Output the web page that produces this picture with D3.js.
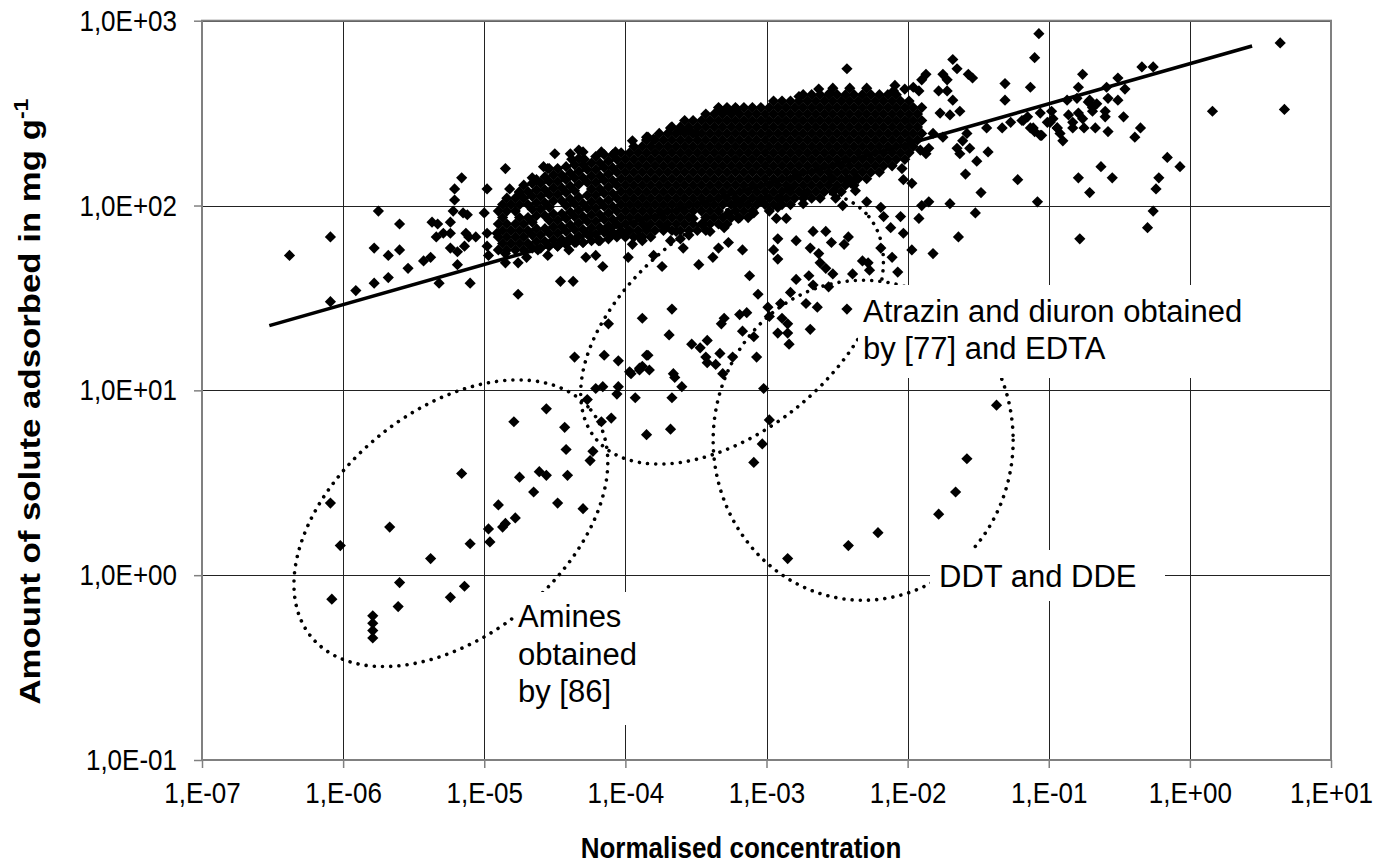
<!DOCTYPE html>
<html><head><meta charset="utf-8">
<script src="https://cdn.jsdelivr.net/npm/d3@7"></script>
<style>
html,body{margin:0;padding:0;background:#fff;}
svg text{font-family:"Liberation Sans", Arial, sans-serif;fill:#000;}
</style></head>
<body><svg id="chart" width="1373" height="865"></svg>
<script>
// ---------- axis ticks ----------
const xTickValues = [1e-7,1e-6,1e-5,1e-4,1e-3,1e-2,1e-1,1e0,1e1];
const xTickLabels = ["1,E-07","1,E-06","1,E-05","1,E-04","1,E-03","1,E-02","1,E-01","1,E+00","1,E+01"];
const yTickValues = [0.1,1,10,100,1000];
const yTickLabels = ["1,0E-01","1,0E+00","1,0E+01","1,0E+02","1,0E+03"];
const xTitle = "Normalised concentration";
const yTitle = "Amount of solute adsorbed in mg g";
const yTitleSup = "-1";

// ---------- data: log10(normalised concentration), log10(amount adsorbed, mg/g) ----------
// dense part of the cloud, read column by column: [log10 C, [log10 q, ...]]
const coreColsA = [
[-4.90,[1.76,1.83,1.90,1.97]],[-4.87,[1.795,1.865,1.935,2.005]],[-4.84,[1.76,1.83,1.90,1.97,2.04]],
[-4.81,[1.795,1.865,2.005]],[-4.78,[1.76,1.83,1.90,1.97,2.04]],[-4.75,[1.795,1.865,1.935,2.005,2.075]],
[-4.72,[1.76,1.83,1.90,2.04,2.11]],[-4.69,[1.795,1.865,1.935,2.005,2.075]],[-4.66,[1.77,1.84,1.91,1.98,2.05,2.12]],
[-4.63,[1.805,1.875,1.945,2.015,2.085]],[-4.60,[1.77,1.84,1.98,2.05,2.12]],[-4.57,[1.805,1.875,1.945,2.015,2.085,2.155]],
[-4.54,[1.78,1.85,1.92,1.99,2.06,2.13,2.20]],[-4.51,[1.815,1.885,1.955,2.025,2.095,2.165]],[-4.48,[1.78,1.85,1.92,2.06,2.13,2.20]],
[-4.45,[1.815,1.885,1.955,2.025,2.095,2.165]],[-4.42,[1.79,1.86,1.93,2.00,2.07,2.14,2.21]],[-4.39,[1.825,1.895,1.965,2.035,2.105,2.175]],
[-4.36,[1.80,1.87,1.94,2.01,2.08,2.15,2.22]],[-4.33,[1.835,1.905,1.975,2.045,2.115,2.185,2.255]],[-4.30,[1.80,1.87,1.94,2.01,2.15,2.22]],
[-4.27,[1.845,1.915,1.985,2.055,2.125,2.195]],[-4.24,[1.81,1.88,1.95,2.02,2.09,2.16,2.23]],[-4.21,[1.845,1.915,1.985,2.055,2.125,2.195,2.265]],
[-4.18,[1.81,1.88,1.95,2.02,2.09,2.16,2.23]],[-4.15,[1.855,1.925,1.995,2.065,2.135,2.205,2.275]],[-4.12,[1.82,1.89,1.96,2.03,2.10,2.17,2.24]],
[-4.09,[1.855,1.925,1.995,2.065,2.135,2.205,2.275]],[-4.06,[1.83,1.90,1.97,2.04,2.11,2.18,2.25]],[-4.03,[1.865,1.935,2.005,2.075,2.145,2.215,2.285]],
[-4.00,[1.83,1.90,1.97,2.04,2.11,2.18,2.25]],[-3.97,[1.865,1.935,2.005,2.075,2.145,2.215,2.285]],[-3.94,[1.83,1.90,1.97,2.04,2.11,2.18,2.25,2.32]],
[-3.91,[1.865,1.935,2.005,2.075,2.145,2.215,2.285]]
];
const coreColsB = [
[-3.88,[1.83,1.90,1.97,2.04,2.11,2.18,2.25,2.32]],[-3.85,[1.865,1.935,2.005,2.075,2.145,2.215,2.285,2.355]],
[-3.82,[1.83,1.90,1.97,2.04,2.11,2.18,2.25,2.32]],[-3.79,[1.865,1.935,2.005,2.075,2.145,2.215,2.285,2.355]],
[-3.76,[1.90,1.97,2.04,2.11,2.18,2.25,2.32,2.39]],[-3.73,[1.865,1.935,2.005,2.075,2.145,2.215,2.285,2.355]],
[-3.70,[1.90,1.97,2.04,2.11,2.18,2.25,2.32,2.39]],[-3.67,[1.865,1.935,2.005,2.075,2.145,2.215,2.285,2.355,2.425]],
[-3.64,[1.90,1.97,2.04,2.11,2.18,2.25,2.32,2.39]],[-3.61,[1.865,1.935,2.005,2.075,2.145,2.215,2.285,2.355,2.425]],
[-3.58,[1.90,1.97,2.04,2.11,2.18,2.25,2.32,2.39,2.46]],[-3.55,[1.865,1.935,2.005,2.075,2.145,2.215,2.285,2.355,2.425]],
[-3.52,[1.90,1.97,2.04,2.11,2.18,2.25,2.32,2.39,2.46]],[-3.49,[1.865,2.005,2.075,2.145,2.215,2.285,2.355,2.425]],
[-3.46,[1.90,1.97,2.04,2.11,2.18,2.25,2.32,2.39,2.46]],[-3.43,[1.865,1.935,2.005,2.075,2.145,2.215,2.285,2.355,2.425,2.495]],
[-3.40,[1.90,1.97,2.04,2.11,2.18,2.25,2.32,2.39,2.46]],[-3.37,[1.935,2.005,2.075,2.145,2.215,2.285,2.355,2.425,2.495]],
[-3.34,[1.90,1.97,2.04,2.11,2.18,2.25,2.32,2.39,2.46,2.53]],[-3.31,[1.935,2.005,2.075,2.145,2.215,2.285,2.355,2.425,2.495]],
[-3.28,[1.90,2.04,2.11,2.18,2.25,2.32,2.39,2.46,2.53]],[-3.25,[1.935,2.005,2.075,2.145,2.215,2.285,2.355,2.425,2.495]],
[-3.22,[1.97,2.04,2.11,2.18,2.25,2.32,2.39,2.46,2.53]],[-3.19,[1.935,2.005,2.075,2.145,2.215,2.285,2.355,2.425,2.495]],
[-3.16,[2.04,2.11,2.18,2.25,2.32,2.39,2.46,2.53]],[-3.13,[1.935,2.005,2.075,2.145,2.215,2.285,2.355,2.425,2.495]],
[-3.10,[1.97,2.04,2.11,2.18,2.25,2.32,2.39,2.46,2.53]],[-3.07,[2.005,2.075,2.145,2.215,2.285,2.355,2.425,2.495]],
[-3.04,[2.04,2.11,2.18,2.25,2.32,2.39,2.46,2.53]],[-3.01,[2.005,2.075,2.145,2.215,2.285,2.355,2.425,2.495]],
[-2.98,[1.97,2.04,2.11,2.18,2.25,2.32,2.39,2.46,2.53]],[-2.95,[2.005,2.075,2.145,2.215,2.285,2.355,2.425,2.495,2.565]],
[-2.92,[2.04,2.11,2.18,2.25,2.32,2.39,2.46,2.53]],[-2.89,[2.005,2.075,2.145,2.215,2.285,2.355,2.425,2.495,2.565]]
];
const coreColsC = [
[-2.86,[2.04,2.11,2.18,2.25,2.32,2.39,2.46,2.53]],[-2.83,[2.005,2.075,2.145,2.215,2.285,2.355,2.425,2.495,2.565]],
[-2.80,[2.04,2.11,2.18,2.25,2.32,2.39,2.46,2.53]],[-2.77,[2.075,2.145,2.215,2.285,2.355,2.425,2.495,2.565]],
[-2.74,[2.04,2.11,2.18,2.25,2.32,2.39,2.46,2.53,2.60]],[-2.71,[2.075,2.145,2.215,2.285,2.355,2.425,2.495,2.565]],
[-2.68,[2.04,2.11,2.18,2.25,2.32,2.39,2.46,2.53,2.60]],[-2.65,[2.075,2.145,2.215,2.285,2.355,2.425,2.495,2.565]],
[-2.62,[2.04,2.11,2.18,2.25,2.32,2.39,2.46,2.53,2.60]],[-2.59,[2.075,2.145,2.215,2.285,2.355,2.425,2.495,2.565]],
[-2.56,[2.11,2.18,2.25,2.32,2.39,2.46,2.53,2.60]],[-2.53,[2.075,2.145,2.215,2.285,2.355,2.425,2.495,2.565,2.635]],
[-2.50,[2.11,2.18,2.25,2.32,2.39,2.46,2.53,2.60]],[-2.47,[2.075,2.145,2.215,2.285,2.355,2.425,2.495,2.565]],
[-2.44,[2.11,2.18,2.25,2.32,2.39,2.46,2.53,2.60]],[-2.41,[2.145,2.215,2.285,2.355,2.425,2.495,2.565,2.635]],
[-2.38,[2.11,2.18,2.25,2.32,2.39,2.46,2.53,2.60]],[-2.35,[2.145,2.215,2.285,2.355,2.425,2.495,2.565]],
[-2.32,[2.18,2.25,2.32,2.39,2.46,2.53,2.60]],[-2.29,[2.145,2.215,2.285,2.355,2.425,2.495,2.565,2.635]],
[-2.26,[2.18,2.25,2.32,2.39,2.46,2.53,2.60]],[-2.23,[2.215,2.285,2.355,2.425,2.495,2.565]],
[-2.20,[2.18,2.25,2.32,2.39,2.46,2.53,2.60]],[-2.17,[2.215,2.285,2.355,2.425,2.495,2.565]],
[-2.14,[2.25,2.32,2.39,2.46,2.53,2.60]],[-2.11,[2.215,2.285,2.355,2.425,2.495,2.565]],
[-2.08,[2.25,2.32,2.39,2.46,2.53,2.60]],[-2.05,[2.285,2.355,2.425,2.495,2.565]],
[-2.02,[2.25,2.32,2.39,2.46,2.53]],[-1.99,[2.285,2.355,2.425,2.495,2.565]],
[-1.96,[2.32,2.39,2.46,2.53]],[-1.93,[2.355,2.425,2.495]],[-1.90,[2.39,2.46,2.53]]
];
// individually read points: [log10 C, log10 q]
const cloudLeft = [
[-6.38,1.73],[-6.09,1.83],[-6.09,1.48],[-5.91,1.54],[-5.78,1.58],[-5.75,1.97],[-5.60,1.90],[-5.78,1.77],
[-5.68,1.73],[-5.60,1.76],[-5.54,1.66],[-5.68,1.61],[-5.43,1.70],[-5.38,1.72],[-5.37,1.91],[-5.33,1.90],
[-5.34,1.83],[-5.29,1.85],[-5.24,1.85],[-5.24,1.91],[-5.22,1.97],[-5.21,2.03],[-5.21,2.09],[-5.16,2.15],
[-5.15,1.96],[-5.12,1.95],[-5.13,1.85],[-5.11,1.83],[-5.06,1.83],[-5.24,1.77],[-5.19,1.75],[-5.14,1.78],
[-5.19,1.68],[-5.32,1.58],[-5.10,1.58],[-5.00,1.96],[-4.98,2.09],[-4.98,1.85],[-4.98,1.78],[-4.97,1.73],
[-4.91,1.85],[-4.85,2.20],[-4.82,2.09],[-4.75,2.07],[-4.85,1.69],[-4.76,1.69],[-4.76,1.52],[-4.46,1.59],
[-4.37,1.59],[-4.50,2.28],[-4.39,2.28],[-4.33,2.30],[-4.30,2.29],[-4.38,2.25],[-4.29,2.25],[-4.17,2.29],
[-4.07,2.29],[-3.95,2.35],[-3.85,2.37],[-4.58,2.21],[-4.55,2.20],[-4.66,2.15],[-4.63,2.14],[-4.48,1.78],
[-4.21,1.73],[-4.16,1.67],[-4.19,1.81],[-4.04,1.85],[-3.98,1.72],[-3.95,1.79],[-3.88,1.81],
[-4.85,1.74],[-4.70,1.72],[-4.62,1.76],[-4.55,1.73],[-4.40,1.76],[-4.30,1.80],[-4.28,1.72],
[-3.72,1.88],[-3.64,1.86],[-3.55,1.84],[-3.45,1.90],[-3.52,1.93],[-3.40,1.86],[-3.30,1.88],
[-3.85,1.88],[-3.98,1.86],[-4.10,1.84],[-4.25,1.84],[-4.35,1.80]
];
const cloudTop = [
[-1.07,2.93],[-1.10,2.80],[-1.31,2.66],[-1.31,2.57],[-1.13,2.64],[-1.68,2.79],[-1.65,2.74],[-1.57,2.71],
[-1.54,2.69],[-2.43,2.74],[-1.87,2.71],[-1.75,2.71],[-1.72,2.68],[-1.90,2.68],[-1.92,2.62],[-1.96,2.64],
[-1.78,2.62],[-1.72,2.62],[-2.63,2.63],[-2.55,2.61],[-2.77,2.59],[-2.09,2.65],[-2.02,2.63],[-2.10,2.62],
[-3.33,2.52],[-3.27,2.52],[-3.21,2.52],[-3.68,2.42],[-3.61,2.41],[-3.55,2.41],[-3.50,2.39],[-3.84,2.37],
[-3.80,2.36],[-1.63,2.51],[-1.70,2.49],[-1.68,2.57],[-1.77,2.50],[-1.58,2.39],[-1.44,2.42],[-1.33,2.42],
[-1.27,2.45],[-1.18,2.46],[-1.11,2.42],[-1.06,2.38],[-0.99,2.45],[-0.94,2.42],[-1.61,2.35],[-1.63,2.28],
[-1.56,2.31],[-1.65,2.31],[-1.75,2.37],[-1.82,2.39],[-1.85,2.31],[-1.91,2.30],[-1.87,2.28]
];
const cloudMid = [
[-1.43,2.29],[-1.51,2.24],[-1.59,2.17],[-1.48,2.07],[-1.22,2.14],[-1.08,2.02],[-1.70,2.01],[-1.52,1.96],
[-1.64,1.83],[-1.82,1.74],[-1.97,1.76],[-1.85,2.02],[-1.90,2.00],[-1.92,1.93],[-1.97,2.12],[-2.03,2.14],
[-2.04,2.20],[-2.05,1.94],[-2.12,1.88],[-2.03,1.85],[-2.11,1.72],[-2.07,1.64],[-2.19,1.77],[-2.17,1.94],
[-2.19,1.99],[-2.29,2.02],[-2.46,2.00],[-2.37,2.08],[-2.40,2.12],[-2.51,2.04],[-2.52,2.08],[-2.54,2.15],
[-2.43,2.14],[-2.36,2.15],[-2.54,1.80],[-2.67,1.86],[-2.58,1.86],[-2.45,1.79],[-2.42,1.83],[-2.63,1.74],
[-2.62,1.69],[-2.69,1.77],[-2.79,1.81],[-2.92,1.82],[-2.95,1.76],[-2.92,1.71],[-2.58,1.66],[-2.53,1.63],
[-2.39,1.63],[-2.32,1.70],[-2.28,1.69],[-2.27,1.65],[-2.70,1.62],[-2.79,1.60],[-2.67,1.57],[-2.56,1.56],
[-2.83,1.53],[-3.06,1.52],[-3.12,1.62],[-3.17,1.76],[-3.27,1.80],[-3.34,1.77],[-3.38,1.72],[-3.48,1.68],
[-3.59,1.77],[-3.61,1.82],[-3.68,1.81],[-3.74,1.67],[-3.80,1.73],[-3.90,1.83],[-2.93,1.93],[-2.86,1.93],
[-2.92,1.99],[-2.90,2.04],[-2.74,2.01],[-2.73,2.06],[-2.84,2.09],[-3.04,2.03],[-3.09,1.96],[-3.20,1.93],
[-3.27,1.96],[-3.16,1.97],[-3.20,2.02]
];
const cloudRight = [
[-0.76,2.71],[-0.79,2.64],[-0.51,2.69],[-0.34,2.75],[-0.26,2.75],[-0.46,2.63],[-0.59,2.64],[-0.58,2.58],
[-0.51,2.57],[-0.87,2.57],[-0.80,2.58],[-0.71,2.57],[-0.69,2.53],[-0.60,2.51],[-0.60,2.48],[-0.47,2.48],
[-0.58,2.40],[-0.35,2.42],[-0.39,2.37],[-1.19,2.46],[-1.15,2.48],[-1.13,2.42],[-1.10,2.40],[-1.05,2.38],
[-1.06,2.50],[-1.01,2.45],[-0.98,2.51],[-0.97,2.47],[-0.94,2.42],[-0.92,2.39],[-0.90,2.35],[-0.86,2.49],
[-0.83,2.45],[-0.83,2.42],[-0.79,2.50],[-0.76,2.47],[-0.75,2.42],[-0.72,2.56],[-0.69,2.51],[-0.67,2.42],
[-0.66,2.55],[-0.79,2.15],[-0.71,2.07],[-0.63,2.21],[-0.55,2.15],[-0.16,2.26],[-0.07,2.21],[-0.22,2.15],
[-0.24,2.09],[-0.26,1.97],[-0.30,1.88],[-0.78,1.82],[0.16,2.51],[0.67,2.52],[0.64,2.88]
];
const atrazinPoints = [
[-2.99,1.45],[-2.90,1.47],[-2.72,1.47],[-2.64,1.45],[-2.43,1.44],[-2.98,1.40],[-2.89,1.39],[-2.85,1.36],
[-2.92,1.31],[-2.85,1.31],[-2.84,1.25],[-2.69,1.33],[-3.67,1.44],[-3.69,1.30],[-3.53,1.25],[-3.47,1.23],
[-3.42,1.27],[-3.32,1.36],[-3.30,1.39],[-3.19,1.41],[-3.14,1.42],[-3.17,1.32],[-3.09,1.29],[-3.07,1.18],
[-3.33,1.20],[-3.24,1.18],[-3.36,1.14],[-3.31,1.09],[-3.43,1.18],[-3.42,1.15],[-3.84,1.19],[-3.88,1.13],
[-3.83,1.11],[-3.66,1.09],[-3.65,1.07],[-3.60,1.02],[-3.96,1.09],[-3.90,1.12],[-3.67,0.96],[-3.68,0.79],
[-3.02,1.01],[-2.98,0.84],[-3.03,0.71],[-3.09,0.61],
[-3.88,1.39],[-4.12,1.36],[-4.36,1.18],[-4.15,1.19],[-4.05,1.16],[-3.97,1.10],[-3.90,1.11],[-3.85,1.19],
[-4.21,1.01],[-4.16,1.02],[-4.05,1.02],[-4.06,0.98],[-3.93,0.96],[-4.27,0.95],[-4.17,0.83],[-4.10,0.85],
[-3.85,0.76],[-4.56,0.90],[-4.43,0.80],[-4.42,0.68],[-4.23,0.67],[-4.25,0.62],[-4.79,0.83]
];
const aminesPoints = [
[-4.61,0.56],[-4.56,0.54],[-4.41,0.54],[-4.75,0.53],[-4.65,0.45],[-4.48,0.39],[-4.30,0.36],[-5.16,0.55],
[-4.90,0.38],[-4.78,0.31],[-4.87,0.26],[-4.85,0.28],[-4.97,0.25],[-4.96,0.18],[-5.10,0.17],[-5.38,0.09],
[-5.67,0.26],[-6.02,0.16],[-6.09,0.39],[-5.60,-0.04],[-6.08,-0.13],[-5.79,-0.22],[-5.79,-0.26],
[-5.79,-0.30],[-5.79,-0.34],[-5.61,-0.17],[-5.24,-0.12],[-5.14,-0.06]
];
const ddtPoints = [
[-2.85,0.09],[-2.42,0.16],[-2.21,0.23],[-1.78,0.33],[-1.66,0.45],[-1.58,0.63],[-1.37,0.92]
];
// fitted trend line end points [concentration, amount]
const trendLine = [[3.0e-7, 22.4],[2.76, 730]];
// annotation labels
const noteAtrazin = ["Atrazin and diuron obtained","by [77] and EDTA"];
const noteDDT = ["DDT and DDE"];
const noteAmines = ["Amines","obtained","by [86]"];
// ellipse annotation centres [concentration, amount]
const ellipseCentres = [[5.8e-6,1.91],[5.7e-4,21.9],[4.84e-3,5.37]];

// ---------- layout ----------
const L = 202, R = 1331, T = 20.7, B = 760;
const svg = d3.select("#chart");
const x = d3.scaleLog().domain([1e-7,10]).range([L,R]);
const y = d3.scaleLog().domain([0.1,1000]).range([B,T]);

// gridlines
svg.append("g").attr("transform",`translate(0,${B})`)
  .call(d3.axisBottom(x).tickValues(xTickValues).tickSize(-(B-T)).tickFormat(""))
  .call(g=>{g.select(".domain").remove();g.selectAll("line").attr("stroke","#222").attr("stroke-width",1).attr("shape-rendering","crispEdges");});
svg.append("g").attr("transform",`translate(${L},0)`)
  .call(d3.axisLeft(y).tickValues(yTickValues).tickSize(-(R-L)).tickFormat(""))
  .call(g=>{g.select(".domain").remove();g.selectAll("line").attr("stroke","#222").attr("stroke-width",1).attr("shape-rendering","crispEdges");});

// axes with tick marks and labels
svg.append("g").attr("transform",`translate(0,${B})`)
  .call(d3.axisBottom(x).tickValues(xTickValues).tickSize(8).tickFormat((d,i)=>xTickLabels[i]))
  .call(g=>{g.select(".domain").remove();
    g.selectAll("line").attr("stroke","#808080").attr("stroke-width",1.5);
    g.selectAll("text").attr("y",0).attr("dy",0).attr("font-size",26).attr("text-anchor","middle")
     .attr("font-family",'"Liberation Sans", Arial, sans-serif')
     .attr("transform","translate(0,43) scale(1,1.1)");});
svg.append("g").attr("transform",`translate(${L},0)`)
  .call(d3.axisLeft(y).tickValues(yTickValues).tickSize(8).tickFormat((d,i)=>yTickLabels[i]))
  .call(g=>{g.select(".domain").remove();
    g.selectAll("line").attr("stroke","#808080").attr("stroke-width",1.5);
    g.selectAll("text").attr("x",0).attr("dy",0).attr("font-size",26).attr("text-anchor","end")
     .attr("font-family",'"Liberation Sans", Arial, sans-serif')
     .attr("transform",`translate(${177-L},9.5) scale(1,1.1)`);});

// plot border
svg.append("rect").attr("x",L).attr("y",T).attr("width",R-L).attr("height",B-T)
  .attr("fill","none").attr("stroke","#808080").attr("stroke-width",2);

// points
const corePoints = [];
[].concat(coreColsA, coreColsB, coreColsC).forEach(c => c[1].forEach(v => corePoints.push([c[0], v])));
const allPoints = [].concat(corePoints, cloudLeft, cloudTop, cloudMid, cloudRight, atrazinPoints, aminesPoints, ddtPoints);
const diamond = "M0,-5.6L5.6,0L0,5.6L-5.6,0Z";
svg.append("g").selectAll("path").data(allPoints).join("path")
  .attr("d",diamond).attr("fill","#000")
  .attr("transform",d=>`translate(${x(Math.pow(10,d[0]))},${y(Math.pow(10,d[1]))})`);

// trend line
svg.append("path").datum(trendLine)
  .attr("d",d3.line().x(d=>x(d[0])).y(d=>y(d[1])))
  .attr("stroke","#000").attr("stroke-width",3.6).attr("fill","none");

// dotted ellipses
const ellipseShape = [{rx:180,ry:113,rot:-39},{rx:176,ry:103,rot:-39},{rx:150,ry:160,rot:0}];
ellipseCentres.forEach((c,i)=>{
  const cx = x(c[0]), cy = y(c[1]), s = ellipseShape[i];
  svg.append("ellipse").attr("cx",cx).attr("cy",cy).attr("rx",s.rx).attr("ry",s.ry)
    .attr("transform",`rotate(${s.rot} ${cx} ${cy})`)
    .attr("fill","none").attr("stroke","#000").attr("stroke-width",3.6)
    .attr("stroke-linecap","round").attr("stroke-dasharray","0.01 8.2");
});

// annotation boxes
function note(lines, bx, by, bw, bh, tx, ty0, lh){
  svg.append("rect").attr("x",bx).attr("y",by).attr("width",bw).attr("height",bh).attr("fill","#fff");
  lines.forEach((t,i)=>svg.append("text").attr("x",tx).attr("y",ty0+i*lh).attr("font-size",31).text(t));
}
note(noteAtrazin, 858, 285, 402, 93, 863, 321.5, 37.5);
note(noteDDT, 930, 550, 235, 51, 939, 587, 37.5);
note(noteAmines, 514, 592, 132, 133, 518, 627, 37.5);

// axis titles
svg.append("text").attr("font-size",26).attr("font-weight","bold").attr("text-anchor","middle")
  .attr("transform","translate(741,858) scale(1,1.16)").text(xTitle);
const yt = svg.append("text").attr("font-size",30).attr("font-weight","bold").attr("text-anchor","middle")
  .attr("transform","translate(40,401.5) rotate(-90) scale(1.16,1)");
yt.append("tspan").text(yTitle);
yt.append("tspan").attr("font-size",20).attr("dy",-12).text(yTitleSup);
</script>
</body></html>
